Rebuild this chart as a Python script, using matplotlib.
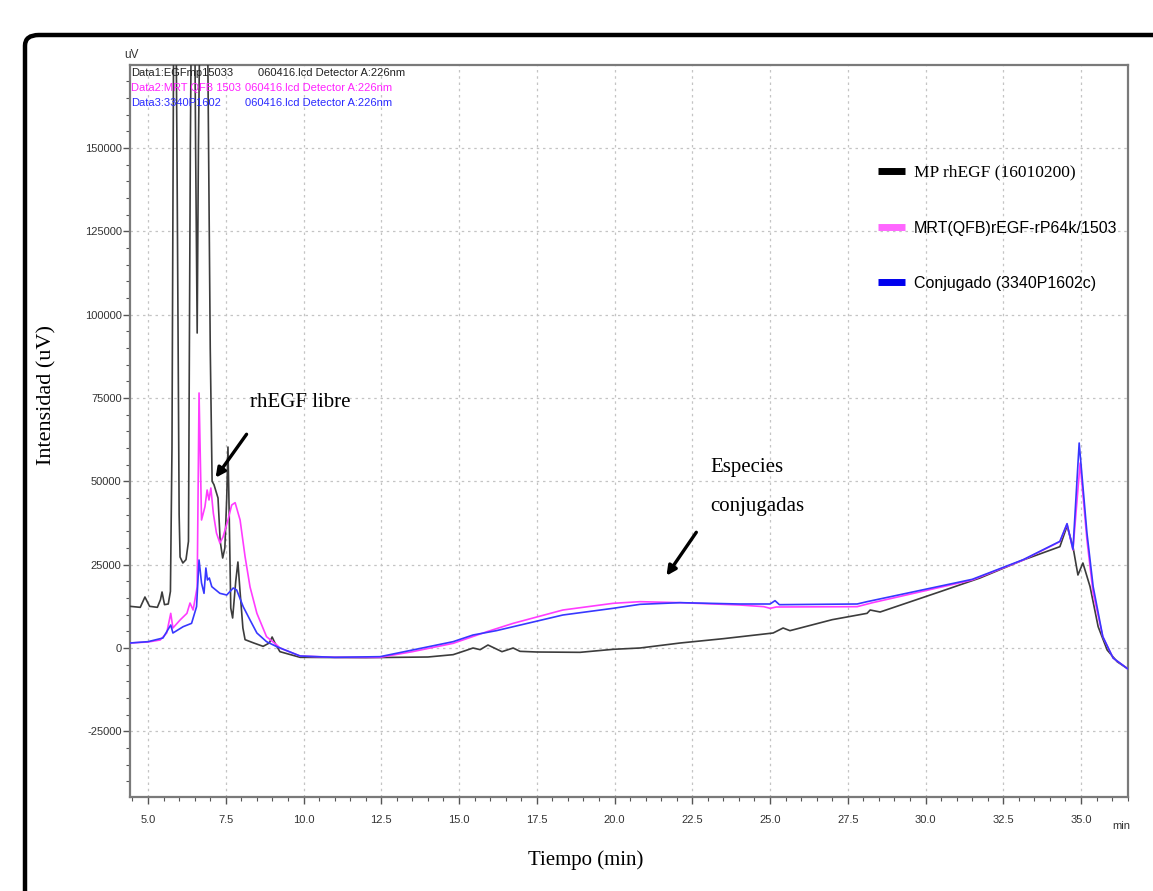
import numpy as np
import matplotlib
matplotlib.use("Agg")
import matplotlib.pyplot as plt
from matplotlib.patches import FancyBboxPatch
from matplotlib.lines import Line2D
from matplotlib.ticker import MultipleLocator, FormatStrFormatter

# retention time (min) / signal (uV) for the three runs
t_mp = [4.42, 4.75, 4.90, 5.05, 5.30, 5.40, 5.45, 5.53, 5.65, 5.72, 5.77, 5.85, 5.93, 6.00,
        6.03, 6.12, 6.22, 6.30, 6.36, 6.45, 6.53, 6.58, 6.62, 6.75, 6.92, 7.00, 7.06, 7.12,
        7.25, 7.32, 7.40, 7.47, 7.53, 7.57, 7.61, 7.66, 7.72, 7.82, 7.89, 7.95, 8.05, 8.12,
        8.40, 8.70, 8.90, 8.99, 9.08, 9.24, 9.89, 12.0, 14.0, 14.81, 15.2, 15.45, 15.68,
        15.93, 16.2, 16.38, 16.74, 16.96, 17.5, 18.89, 19.95, 20.82, 22.11, 23.5, 25.10,
        25.42, 25.64, 27.0, 28.12, 28.22, 28.54, 30.47, 31.75, 33.14, 34.32, 34.55, 34.74,
        34.90, 35.06, 35.29, 35.55, 35.84, 36.16, 36.51]
v_mp = [12500, 12200, 15300, 12500, 12200, 14500, 16800, 13000, 13200, 17000, 60000, 250000,
        150000, 40000, 27300, 25500, 26500, 32000, 150000, 260000, 150000, 94500, 150000,
        260000, 180000, 90000, 50000, 49000, 45000, 32000, 27000, 30000, 45000, 60300, 40000,
        12000, 9000, 20000, 25800, 18000, 6000, 2500, 1500, 500, 1500, 3300, 1500, -1100,
        -2800, -2900, -2700, -2000, -800, 0, -500, 900, -300, -1100, 0, -1000, -1200, -1300,
        -400, 0, 1500, 2800, 4500, 6000, 5200, 8500, 10400, 11400, 10800, 16900, 21000, 26400,
        30400, 36600, 30400, 21900, 25500, 18400, 6400, -600, -4100, -6300]

t_mrt = [4.42, 5.00, 5.39, 5.60, 5.73, 5.80, 6.03, 6.25, 6.35, 6.45, 6.58, 6.64, 6.72, 6.83,
         6.90, 6.96, 7.02, 7.10, 7.20, 7.31, 7.41, 7.57, 7.69, 7.80, 7.96, 8.12, 8.28, 8.50,
         8.81, 9.14, 9.24, 9.89, 11.0, 12.46, 13.5, 14.81, 15.9, 16.74, 18.34, 19.95, 20.82,
         22.11, 24.03, 24.8, 25.0, 25.2, 27.8, 28.3, 31.5, 33.14, 34.32, 34.55, 34.74, 34.97,
         35.19, 35.39, 35.70, 36.03, 36.51]
v_mrt = [1500, 1800, 2400, 4500, 10400, 6000, 8400, 10400, 13500, 11400, 18300, 76500, 38400,
         42400, 47400, 44400, 48000, 40400, 34500, 31500, 33300, 38400, 42900, 43600, 38400,
         27400, 18300, 10400, 3400, 900, 0, -2400, -2800, -2800, -1100, 1400, 4900, 7400, 11400,
         13400, 13900, 13600, 12900, 12400, 11900, 12300, 12400, 13600, 20400, 26400, 31900,
         37200, 29400, 55500, 32400, 16400, 3400, -3000, -6300]

t_conj = [4.42, 5.00, 5.48, 5.73, 5.80, 6.13, 6.40, 6.56, 6.64, 6.72, 6.80, 6.86, 6.91, 6.97,
          7.05, 7.31, 7.53, 7.74, 7.85, 8.06, 8.28, 8.50, 8.81, 9.14, 9.89, 11.0, 12.46, 14.81,
          15.45, 16.2, 18.34, 19.95, 20.82, 22.11, 24.03, 25.0, 25.16, 25.3, 27.8, 28.12, 31.5,
          33.14, 34.32, 34.55, 34.74, 34.94, 35.19, 35.39, 35.70, 36.03, 36.51]
v_conj = [1500, 1900, 3000, 6900, 4500, 6400, 7400, 12400, 26400, 19500, 16400, 24000, 20400,
          21000, 18400, 16400, 15900, 18000, 17400, 12400, 8400, 4500, 1900, 400, -2400, -2800,
          -2600, 1900, 3900, 5200, 9900, 11900, 13100, 13600, 13200, 13200, 14200, 13000, 13200,
          13900, 20600, 26500, 32000, 37300, 29600, 61500, 34500, 18400, 3400, -3000, -6300]

series_names = ["MP rhEGF (16010200)", "MRT(QFB)rEGF-rP64k/1503", "Conjugado (3340P1602c)"]
header_ids = ["Data1:EGFmp15033", "Data2:MRT QFB 1503", "Data3:3340P1602"]
header_file = "060416.lcd Detector A:226nm"

W, H = 1153, 891
fig = plt.figure(figsize=(W / 100, H / 100), dpi=100)
fig.patch.set_facecolor("white")

sans = ["Liberation Sans", "DejaVu Sans"]
serif = ["Liberation Serif", "DejaVu Serif"]

# rounded black frame around the whole chart
frame = FancyBboxPatch((25 / W, -0.05), 1.1, 1 - 35 / H + 0.05,
                       boxstyle="round,pad=0,rounding_size=0.012",
                       transform=fig.transFigure, fill=False, ec="black", lw=3.2,
                       clip_on=False, zorder=0)
fig.patches.append(frame)

ax = fig.add_axes([130 / W, 1 - 797 / H, 998 / W, 732 / H])
ax.set_xlim(4.42, 36.51)
ax.set_ylim(-44700, 174900)

ax.plot(t_mp, v_mp, color="#3c3c3c", lw=1.2, zorder=3)
ax.plot(t_mrt, v_mrt, color="#ff3cff", lw=1.2, zorder=4)
ax.plot(t_conj, v_conj, color="#3838ff", lw=1.2, zorder=5)

for s in ax.spines.values():
    s.set_color("#7a7a7a")
    s.set_linewidth(1.6)

ax.xaxis.set_major_locator(MultipleLocator(2.5))
ax.xaxis.set_minor_locator(MultipleLocator(0.5))
ax.yaxis.set_major_locator(MultipleLocator(25000))
ax.yaxis.set_minor_locator(MultipleLocator(5000))
ax.xaxis.set_major_formatter(FormatStrFormatter("%.1f"))
ax.yaxis.set_major_formatter(FormatStrFormatter("%d"))
ax.tick_params(which="major", direction="out", length=5, width=1, color="#555555",
               labelsize=8)
ax.tick_params(axis="x", which="major", pad=8)
ax.tick_params(axis="y", which="major", pad=1)
ax.tick_params(which="minor", direction="out", length=3, width=0.8, color="#555555")
for lab in ax.get_xticklabels() + ax.get_yticklabels():
    lab.set_family(sans)
    lab.set_color("#333333")
ax.grid(True, which="major", ls=(0, (2, 3)), color="#c4c4c4", lw=0.9, zorder=1)

ax.text(36.3, -52000, "min", fontsize=8, family=sans, color="#333333",
        ha="center", va="top", clip_on=False)
ax.text(-0.006, 1.006, "uV", transform=ax.transAxes, fontsize=8.5, family=sans,
        color="#333333", ha="left", va="bottom")

# run header lines in the upper-left corner
header_cols = ["#222222", "#ff22ff", "#2a2aff"]
file_x = [258, 245, 245]
for i, (name, col) in enumerate(zip(header_ids, header_cols)):
    yy = 1 - (73 + 15 * i) / H
    fig.text(131 / W, yy, name, fontsize=8, family=sans, color=col, va="center")
    fig.text(file_x[i] / W, yy, header_file, fontsize=8, family=sans, color=col,
             va="center")

fig.text(586 / W, 1 - 860 / H, "Tiempo (min)", family=serif, fontsize=15,
         ha="center", va="center")
fig.text(47 / W, 1 - 395 / H, "Intensidad (uV)", family=serif, fontsize=16,
         rotation=90, ha="center", va="center")

# peak annotations
arrow = dict(arrowstyle="-|>", lw=2.4, color="black", mutation_scale=14)
ax.annotate("", xy=(7.12, 50400), xytext=(8.22, 64800), arrowprops=arrow, zorder=6)
ax.text(8.28, 73800, "rhEGF libre", family=serif, fontsize=15, va="center", ha="left")
ax.annotate("", xy=(21.62, 21000), xytext=(22.68, 35400), arrowprops=arrow, zorder=6)
ax.text(23.07, 54200, "Especies", family=serif, fontsize=15, va="center", ha="left")
ax.text(23.07, 42300, "conjugadas", family=serif, fontsize=15, va="center", ha="left")

handles = [Line2D([], [], color=c, lw=5, solid_capstyle="butt")
           for c in ["#000000", "#ff66ff", "#0000ee"]]
leg = ax.legend(handles, series_names, loc="upper left",
                bbox_to_anchor=((862 - 130) / 998, (797 - 149) / 732),
                frameon=False, handlelength=1.6, handletextpad=0.5, labelspacing=2.3,
                fontsize=12.5)
texts = leg.get_texts()
texts[0].set_family(serif)
for tx in texts[1:]:
    tx.set_family(sans)
    tx.set_fontsize(11.5)

fig.savefig("out.png", dpi=100)
